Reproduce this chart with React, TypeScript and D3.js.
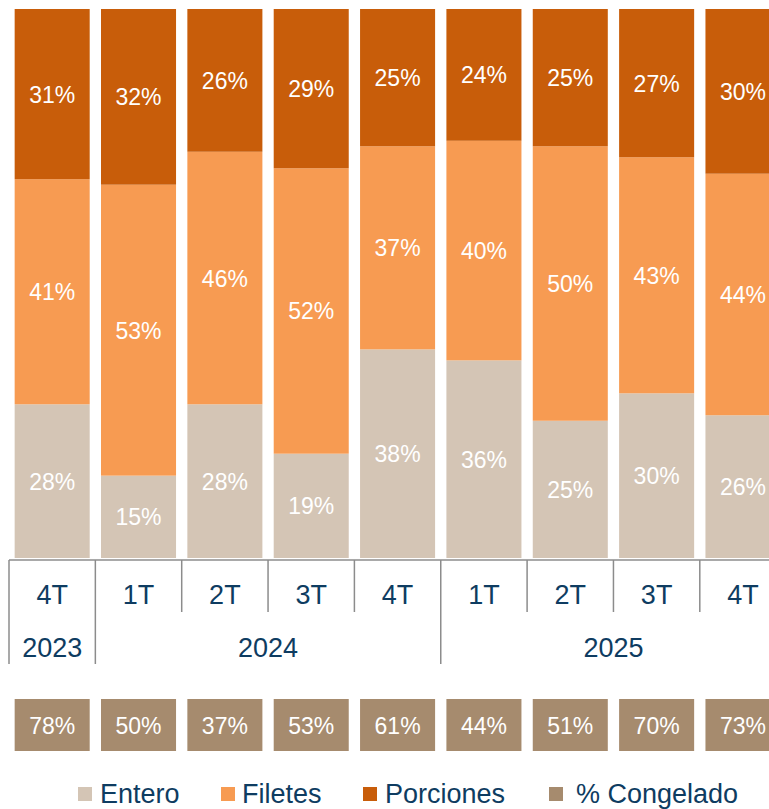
import React from "react";
import * as d3 from "d3";

const quarters = ["4T", "1T", "2T", "3T", "4T", "1T", "2T", "3T", "4T"];
const years = [
  { label: "2023", start: 0, count: 1 },
  { label: "2024", start: 1, count: 4 },
  { label: "2025", start: 5, count: 4 },
];
const entero = [28, 15, 28, 19, 38, 36, 25, 30, 26];
const filetes = [41, 53, 46, 52, 37, 40, 50, 43, 44];
const porciones = [31, 32, 26, 29, 25, 24, 25, 27, 30];
const congelado = [78, 50, 37, 53, 61, 44, 51, 70, 73];

const seriesNames = ["Entero", "Filetes", "Porciones"];
const seriesColors = ["#d4c5b5", "#f79b52", "#c85d0a"];
const congeladoColor = "#a68b6e";
const textBlue = "#0e3c61";
const axisGray = "#8c8c8c";
const FONT = "Arial, 'Liberation Sans', sans-serif";

export default function App() {
  const W = 769;
  const H = 809;
  const step = 86.35;
  const x0 = 9;
  const n = quarters.length;

  const x = d3
    .scaleBand<number>()
    .domain(d3.range(n))
    .range([x0, x0 + step * n])
    .paddingInner(0.131)
    .paddingOuter(0.0655);

  const y = d3.scaleLinear().domain([0, 100]).range([558, 9]);

  const rows = d3.range(n).map((i) => ({
    i,
    Entero: entero[i],
    Filetes: filetes[i],
    Porciones: porciones[i],
  }));
  const stack = d3.stack<any>().keys(seriesNames)(rows);

  const axisY = 560;
  const tickEnd = 612;
  const groupEnd = 664;
  const groupBoundaries = new Set<number>();
  years.forEach((g) => groupBoundaries.add(g.start));

  const legendItems = [
    { name: "Entero", color: seriesColors[0], sx: 78, tx: 100 },
    { name: "Filetes", color: seriesColors[1], sx: 221, tx: 242 },
    { name: "Porciones", color: seriesColors[2], sx: 363, tx: 385 },
    { name: "% Congelado", color: congeladoColor, sx: 549, tx: 576 },
  ];

  return (
    <svg
      width={W}
      height={H}
      style={{ position: "absolute", left: 0, top: 0, background: "#fff" }}
      fontFamily={FONT}
    >
      {stack.map((s, si) => (
        <g key={s.key}>
          {s.map((d, i) => {
            const top = y(d[1]);
            const bot = y(d[0]);
            const bx = x(i)!;
            return (
              <g key={i}>
                <rect
                  x={bx}
                  y={top}
                  width={x.bandwidth()}
                  height={bot - top}
                  fill={seriesColors[si]}
                />
                <text
                  x={bx + x.bandwidth() / 2}
                  y={(top + bot) / 2 + 8.5}
                  textAnchor="middle"
                  fill="#fff"
                  fontSize={23}
                >
                  {`${d[1] - d[0]}%`}
                </text>
              </g>
            );
          })}
        </g>
      ))}

      {/* axis */}
      <line x1={x0} x2={W} y1={axisY} y2={axisY} stroke={axisGray} strokeWidth={1.5} />
      {d3.range(n).map((i) => {
        const lx = x0 + step * i;
        const isGroup = groupBoundaries.has(i);
        return (
          <line
            key={i}
            x1={lx}
            x2={lx}
            y1={axisY}
            y2={isGroup ? groupEnd : tickEnd}
            stroke={axisGray}
            strokeWidth={1.5}
          />
        );
      })}
      {quarters.map((q, i) => (
        <text
          key={i}
          x={x(i)! + x.bandwidth() / 2}
          y={604}
          textAnchor="middle"
          fill={textBlue}
          fontSize={27}
        >
          {q}
        </text>
      ))}
      {years.map((g) => (
        <text
          key={g.label}
          x={x0 + step * (g.start + g.count / 2)}
          y={657}
          textAnchor="middle"
          fill={textBlue}
          fontSize={27}
        >
          {g.label}
        </text>
      ))}

      {/* congelado boxes */}
      {congelado.map((v, i) => (
        <g key={i}>
          <rect x={x(i)!} y={699} width={x.bandwidth()} height={52} fill={congeladoColor} />
          <text
            x={x(i)! + x.bandwidth() / 2}
            y={733.5}
            textAnchor="middle"
            fill="#fff"
            fontSize={23}
          >
            {`${v}%`}
          </text>
        </g>
      ))}

      {/* legend */}
      {legendItems.map((l) => (
        <g key={l.name}>
          <rect x={l.sx} y={787} width={14} height={14} fill={l.color} />
          <text x={l.tx} y={803} fill={textBlue} fontSize={27}>
            {l.name}
          </text>
        </g>
      ))}
    </svg>
  );
}
